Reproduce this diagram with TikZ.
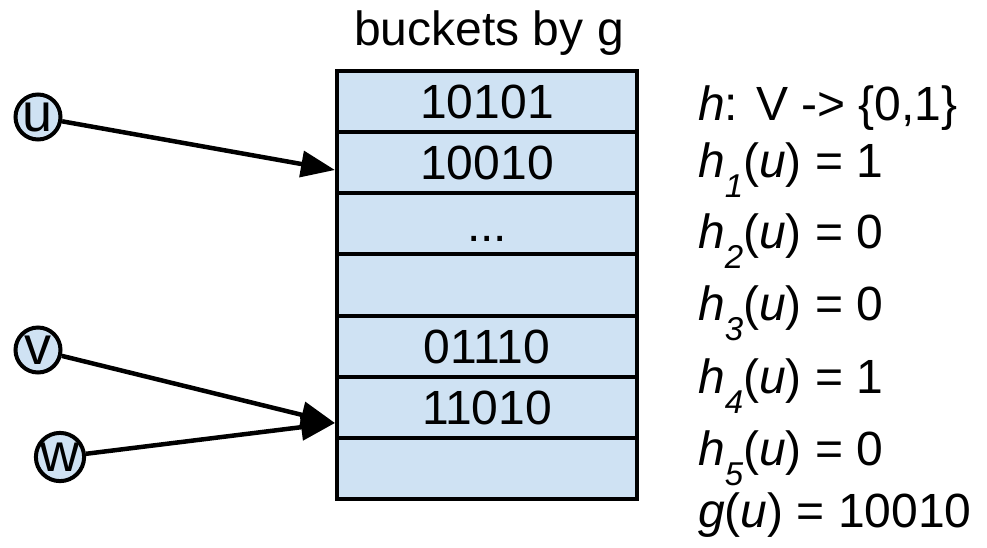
\documentclass[tikz,border=0pt]{standalone}
\usepackage{fontspec}
\setmainfont{Liberation Sans}
\usetikzlibrary{arrows.meta}
\definecolor{cellblue}{RGB}{207,226,243}
\newcommand{\hsubx}[1]{\textit{h}\raisebox{-20pt}{\fontsize{33}{33}\selectfont\itshape #1}(\textit{u}) = }
\begin{document}
\begin{tikzpicture}[x=1pt,y=-1pt,
  big/.style={font=\fontsize{48}{58}\selectfont},
  cell/.style={draw=black, line width=4pt, fill=cellblue, minimum width=300pt, minimum height=61.14pt, inner sep=0pt, text height=34.4pt, text depth=0pt, big},
  vert/.style={circle, draw=black, line width=4pt, fill=cellblue, minimum size=45pt, inner sep=0pt, font=\fontsize{54}{54}\selectfont},
  conn/.style={line width=4.5pt, -{Triangle[length=34pt,width=26pt]}},
  eqn/.style={anchor=base west, inner sep=0pt, big}]
\useasboundingbox (0,0) rectangle (987,547);
% title
\node[anchor=base, inner sep=0pt, big] (title) at (489,45) {buckets by g};
% bucket rows
\node[cell] (r1) at (487,101.57) {10101};
\node[cell] (r2) at (487,162.71) {10010};
\node[cell] (r3) at (487,223.85) {...};
\node[cell] (r4) at (487,284.99) {};
\node[cell] (r5) at (487,346.13) {01110};
\node[cell] (r6) at (487,407.27) {11010};
\node[cell] (r7) at (487,468.41) {};
% vertices
\node[vert] (u) at (38,117) {u};
\node[vert] (v) at (38,350) {v};
\node[vert] (w) at (60,457) {w};
% arrow tips
\coordinate (tu) at (335,170);
\coordinate (tvw) at (335,423);
\draw[conn] (u) -- (tu);
\draw[conn] (v) -- (tvw);
\draw[conn] (w) -- (tvw);
% equations
\node[eqn] (l0) at (698,120) {\textit{h}: V -> \{0,1\}};
\node[eqn] (l1) at (698,177) {\hsubx{1}1};
\node[eqn] (l2) at (698,248) {\hsubx{2}0};
\node[eqn] (l3) at (698,320) {\hsubx{3}0};
\node[eqn] (l4) at (698,393) {\hsubx{4}1};
\node[eqn] (l5) at (698,465) {\hsubx{5}0};
\node[eqn] (l6) at (698,527) {\textit{g}(\textit{u}) = 10010};
\end{tikzpicture}
\end{document}
